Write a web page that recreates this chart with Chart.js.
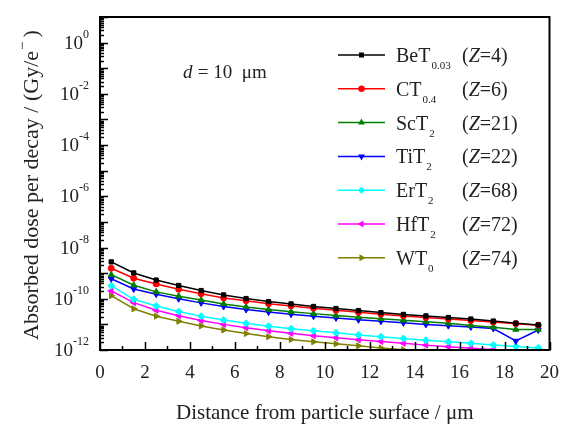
<!DOCTYPE html>
<html lang="en">
<head>
    <meta charset="UTF-8">
    <title>Absorbed dose per decay</title>
    <style>
        html, body { margin: 0; padding: 0; background: #fff; }
        #wrap { width: 571px; height: 430px; }
    </style>
</head>
<body>
    <div id="wrap"><canvas id="doseChart" width="571" height="430"></canvas></div>

    <script src="https://cdn.jsdelivr.net/npm/chart.js"></script>
    <script>
        // distances from the particle surface (um)
        const distances = [0.5, 1.5, 2.5, 3.5, 4.5, 5.5, 6.5, 7.5, 8.5, 9.5,
                           10.5, 11.5, 12.5, 13.5, 14.5, 15.5, 16.5, 17.5, 18.5, 19.5];

        // absorbed dose per decay (Gy/e-)
        const beT = [2.75e-9, 1.02e-9, 5.37e-10, 3.31e-10, 2.09e-10, 1.41e-10, 1.02e-10, 7.76e-11, 6.31e-11, 5.01e-11,
                     4.17e-11, 3.47e-11, 2.88e-11, 2.45e-11, 2.14e-11, 1.86e-11, 1.62e-11, 1.35e-11, 1.12e-11, 9.55e-12];
        const cT = [1.55e-9, 6.31e-10, 3.80e-10, 2.34e-10, 1.58e-10, 1.07e-10, 8.32e-11, 6.46e-11, 5.25e-11, 4.27e-11,
                    3.55e-11, 2.95e-11, 2.51e-11, 2.14e-11, 1.86e-11, 1.62e-11, 1.41e-11, 1.23e-11, 1.07e-11, 9.33e-12];
        const scT = [8.71e-10, 3.39e-10, 1.86e-10, 1.26e-10, 8.91e-11, 6.31e-11, 4.79e-11, 3.80e-11, 3.09e-11, 2.63e-11,
                     2.24e-11, 1.91e-11, 1.66e-11, 1.45e-11, 1.26e-11, 1.10e-11, 9.12e-12, 7.76e-12, 6.31e-12, 6.31e-12];
        const tiT = [6.03e-10, 2.40e-10, 1.51e-10, 1.00e-10, 6.92e-11, 5.01e-11, 3.80e-11, 3.02e-11, 2.51e-11, 2.09e-11,
                     1.78e-11, 1.51e-11, 1.32e-11, 1.15e-11, 1.00e-11, 8.91e-12, 7.94e-12, 6.92e-12, 2.24e-12, 6.03e-12];
        const erT = [3.24e-10, 9.55e-11, 5.25e-11, 3.16e-11, 2.09e-11, 1.48e-11, 1.10e-11, 8.51e-12, 6.76e-12, 5.62e-12,
                     4.68e-12, 3.89e-12, 3.31e-12, 2.82e-12, 2.40e-12, 2.09e-12, 1.82e-12, 1.58e-12, 1.38e-12, 1.20e-12];
        const hfT = [2.04e-10, 7.08e-11, 3.55e-11, 2.19e-11, 1.41e-11, 1.00e-11, 7.41e-12, 5.62e-12, 4.47e-12, 3.63e-12,
                     3.02e-12, 2.51e-12, 2.14e-12, 1.82e-12, 1.55e-12, 1.35e-12, 1.17e-12, 1.05e-12, 9.33e-13, 8.32e-13];
        const wT = [1.32e-10, 4.07e-11, 2.09e-11, 1.32e-11, 8.71e-12, 6.03e-12, 4.37e-12, 3.31e-12, 2.57e-12, 2.09e-12,
                    1.74e-12, 1.45e-12, 1.20e-12, 1.02e-12, 8.71e-13, 7.59e-13, 6.61e-13, 5.75e-13, 5.01e-13, 4.47e-13];

        // legend text: compound, subscript, atomic number
        const compounds = ['BeT', 'CT', 'ScT', 'TiT', 'ErT', 'HfT', 'WT'];
        const subscripts = ['0.03', '0.4', '2', '2', '2', '2', '0'];
        const atomicNumbers = [4, 6, 21, 22, 68, 72, 74];

        // axis ticks
        const xTicks = [0, 2, 4, 6, 8, 10, 12, 14, 16, 18, 20];
        const yExponents = [0, -2, -4, -6, -8, -10, -12];

        const serif = "'Liberation Serif', 'DejaVu Serif', serif";
        const textColor = '#222';

        const seriesValues = [beT, cT, scT, tiT, erT, hfT, wT];
        const colors = ['#000000', '#ff0000', '#008000', '#0000ff', '#00ffff', '#ff00ff', '#808000'];
        const markers = [
            { style: 'rect', rot: 0, r: 3 },
            { style: 'circle', rot: 0, r: 3 },
            { style: 'triangle', rot: 0, r: 3.5 },
            { style: 'triangle', rot: 180, r: 3.5 },
            { style: 'rectRot', rot: 0, r: 3.5 },
            { style: 'triangle', rot: -90, r: 3.5 },
            { style: 'triangle', rot: 90, r: 3.5 }
        ];

        const datasets = seriesValues.map((vals, i) => ({
            label: compounds[i],
            data: distances.map((d, j) => ({ x: d, y: vals[j] })),
            borderColor: colors[i],
            backgroundColor: colors[i],
            borderWidth: 1.5,
            pointStyle: markers[i].style,
            pointRotation: markers[i].rot,
            pointRadius: markers[i].r,
            pointBorderWidth: 1,
            tension: 0
        }));

        // frame, inward ticks, superscript labels, legend and annotation
        const decorations = {
            id: 'decorations',
            afterDraw(chart) {
                const ctx = chart.ctx;
                const area = chart.chartArea;
                const xs = chart.scales.x;
                const ys = chart.scales.y;
                ctx.save();
                ctx.strokeStyle = '#000';
                ctx.fillStyle = '#000';

                // y ticks (inward)
                ctx.lineWidth = 1.5;
                ctx.beginPath();
                for (let e = -12; e <= 1; e++) {
                    const py = Math.round(ys.getPixelForValue(Math.pow(10, e))) + 0.5;
                    ctx.moveTo(area.left, py);
                    ctx.lineTo(area.left + 8, py);
                    if (e < 1) {
                        for (let m = 2; m <= 9; m++) {
                            const my = Math.round(ys.getPixelForValue(m * Math.pow(10, e))) + 0.5;
                            ctx.moveTo(area.left, my);
                            ctx.lineTo(area.left + 4, my);
                        }
                    }
                }
                // x ticks (inward)
                for (let v = 0; v <= 20; v++) {
                    const px = Math.round(xs.getPixelForValue(v)) + 0.5;
                    ctx.moveTo(px, area.bottom);
                    ctx.lineTo(px, area.bottom - (v % 2 === 0 ? 8 : 4));
                }
                ctx.stroke();

                // frame
                ctx.lineWidth = 2;
                ctx.strokeRect(area.left, area.top, area.right - area.left, area.bottom - area.top);

                // y tick labels 10^n
                ctx.fillStyle = textColor;
                ctx.textBaseline = 'middle';
                yExponents.forEach(e => {
                    const py = ys.getPixelForValue(Math.pow(10, e));
                    const sup = e === 0 ? '0' : '-' + Math.abs(e);
                    ctx.font = '12px ' + serif;
                    const supW = ctx.measureText(sup).width;
                    const right = 89;
                    ctx.textAlign = 'left';
                    ctx.fillText(sup, right - supW, py - 8);
                    ctx.font = '19px ' + serif;
                    ctx.textAlign = 'right';
                    ctx.fillText('10', right - supW, py + 1);
                });

                // y axis title
                ctx.save();
                ctx.translate(32, 184);
                ctx.rotate(-Math.PI / 2);
                ctx.font = '22px ' + serif;
                const mainTxt = 'Absorbed dose per decay / (Gy/e';
                const wMain = ctx.measureText(mainTxt).width;
                const wEnd = ctx.measureText(' )').width;
                const total = wMain + 10 + wEnd;
                let tx = -total / 2;
                ctx.textAlign = 'left';
                ctx.textBaseline = 'middle';
                ctx.fillText(mainTxt, tx, 0);
                ctx.font = '15px ' + serif;
                ctx.fillText('\u2212', tx + wMain + 1, -9);
                ctx.font = '22px ' + serif;
                ctx.fillText(' )', tx + wMain + 8, 0);
                ctx.restore();

                // d = 10 um
                ctx.textBaseline = 'alphabetic';
                ctx.textAlign = 'left';
                ctx.font = 'italic 19px ' + serif;
                ctx.fillText('d', 183, 78);
                ctx.font = '19px ' + serif;
                ctx.fillText(' = 10  \u03bcm', 193, 78);

                // legend
                compounds.forEach((name, i) => {
                    const ly = 55 + i * 33.8;
                    ctx.strokeStyle = colors[i];
                    ctx.fillStyle = colors[i];
                    ctx.lineWidth = 1.5;
                    ctx.beginPath();
                    ctx.moveTo(338, ly);
                    ctx.lineTo(385, ly);
                    ctx.stroke();
                    Chart.helpers.drawPoint(ctx, {
                        pointStyle: markers[i].style,
                        rotation: markers[i].rot,
                        radius: 2.5,
                        borderWidth: 1
                    }, 361.5, ly);

                    ctx.fillStyle = textColor;
                    ctx.textBaseline = 'alphabetic';
                    ctx.font = '20px ' + serif;
                    ctx.fillText(name, 396, ly + 7);
                    const nw = ctx.measureText(name).width;
                    ctx.font = '11px ' + serif;
                    ctx.fillText(subscripts[i], 397 + nw, ly + 14);
                    ctx.font = '20px ' + serif;
                    const zx = 462;
                    ctx.fillText('(', zx, ly + 7);
                    const pw = ctx.measureText('(').width;
                    ctx.font = 'italic 20px ' + serif;
                    ctx.fillText('Z', zx + pw, ly + 7);
                    const zw = ctx.measureText('Z').width;
                    ctx.font = '20px ' + serif;
                    ctx.fillText('=' + atomicNumbers[i] + ')', zx + pw + zw, ly + 7);
                });

                ctx.restore();
            }
        };

        const ctx = document.getElementById('doseChart').getContext('2d');
        new Chart(ctx, {
            type: 'line',
            data: { datasets: datasets },
            options: {
                responsive: false,
                animation: false,
                layout: { padding: { top: 17, right: 17, left: 0, bottom: 0 } },
                plugins: {
                    legend: { display: false },
                    tooltip: { enabled: false }
                },
                scales: {
                    x: {
                        type: 'linear',
                        min: 0,
                        max: 20,
                        afterBuildTicks: scale => { scale.ticks = xTicks.map(v => ({ value: v })); },
                        afterFit: scale => { scale.height = 80; },
                        grid: { display: false, drawTicks: false },
                        border: { display: false },
                        ticks: {
                            padding: 12,
                            color: textColor,
                            maxRotation: 0,
                            font: { family: serif, size: 19 }
                        },
                        title: {
                            display: true,
                            text: 'Distance from particle surface / \u03bcm',
                            color: textColor,
                            font: { family: serif, size: 21 },
                            padding: { top: 0, bottom: 4 }
                        }
                    },
                    y: {
                        type: 'logarithmic',
                        min: 1e-12,
                        max: 10,
                        afterFit: scale => { scale.width = 100; },
                        grid: { display: false, drawTicks: false },
                        border: { display: false },
                        ticks: { display: false }
                    }
                }
            },
            plugins: [decorations]
        });
    </script>
</body>
</html>
